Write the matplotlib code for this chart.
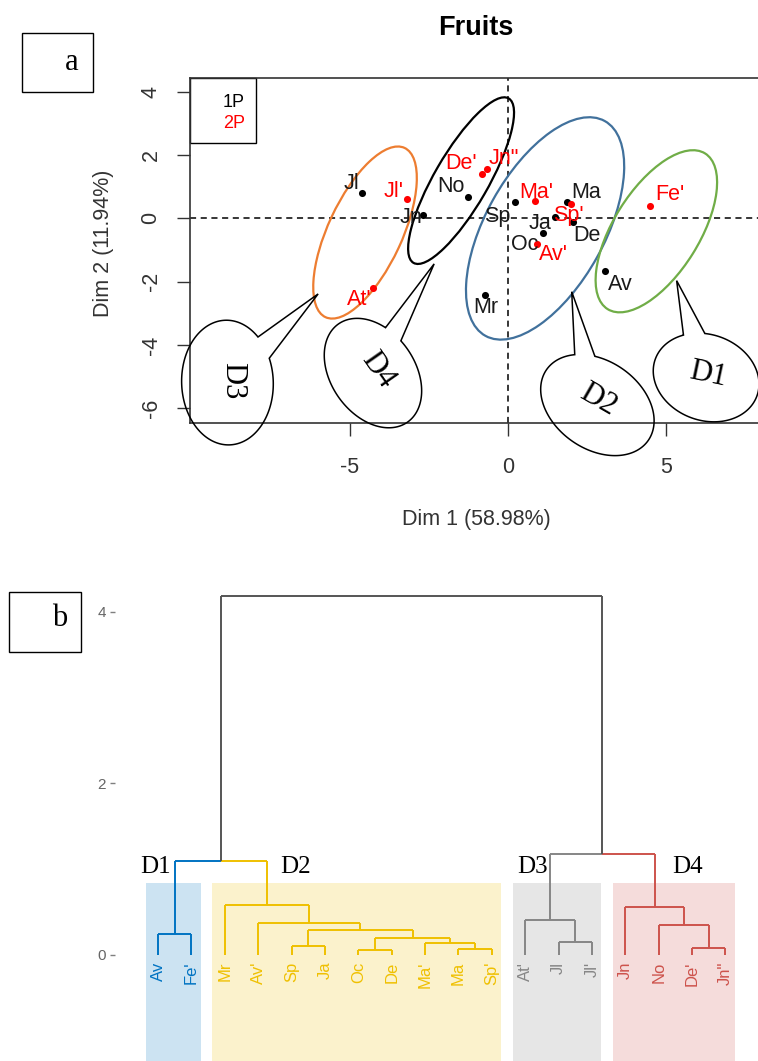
import numpy as np
import matplotlib
matplotlib.use("Agg")
import matplotlib.pyplot as plt
from matplotlib.patches import Ellipse, Rectangle, Polygon

plt.rcParams['font.family'] = ['Liberation Sans', 'DejaVu Sans']
plt.rcParams['axes.unicode_minus'] = False
SERIF = ['Liberation Serif', 'DejaVu Serif']

# ---------------- data : panel a (individuals factor map) ----------------
labels_a = ["Jl", "Jl'", "Jn", "No", "De'", 'Jn"', "Sp", "Ma'", "Ma", "Sp'",
            "Ja", "De", "Oc", "Av'", "Mr", "Av", "Fe'", "At'"]
dim1 = [-4.59, -3.20, -2.67, -1.25, -0.83, -0.67, 0.22, 0.85, 1.87, 2.00,
        1.48, 2.04, 1.11, 0.91, -0.73, 3.06, 4.48, -4.26]
dim2 = [0.81, 0.60, 0.10, 0.68, 1.40, 1.55, 0.52, 0.56, 0.50, 0.45,
        0.05, -0.11, -0.45, -0.81, -2.42, -1.66, 0.39, -2.19]
group = ["1P", "2P", "1P", "1P", "2P", "2P", "1P", "2P", "1P", "2P",
         "1P", "1P", "1P", "2P", "1P", "1P", "2P", "2P"]

# cluster ellipses drawn on the map
ell_names = ["D3", "D4", "D2", "D1"]
ell_cx = [-4.51, -1.48, 1.17, 4.68]
ell_cy = [-0.45, 1.19, -0.32, -0.41]
ell_w = [5.9, 6.0, 7.76, 5.8]
ell_h = [2.33, 1.7, 3.75, 2.7]
ell_angle = [65, 60, 61, 58]

# ---------------- data : panel b (dendrogram) ----------------
leaf_order = ["Av", "Fe'", "Mr", "Av'", "Sp", "Ja", "Oc", "De", "Ma'", "Ma",
              "Sp'", "At'", "Jl", "Jl'", "Jn", "No", "De'", 'Jn"']
leaf_cluster = ["D1", "D1", "D2", "D2", "D2", "D2", "D2", "D2", "D2", "D2",
                "D2", "D3", "D3", "D3", "D4", "D4", "D4", "D4"]
merge_left = ["Av", "Ma", "Ma'", "Oc", "n4", "Sp", "n6", "Av'", "Mr", "n1",
              "Jl", "At'", "De'", "No", "Jn", "n12", "n10"]
merge_right = ["Fe'", "Sp'", "n2", "De", "n3", "Ja", "n5", "n7", "n8", "n9",
               "Jl'", "n11", 'Jn"', "n13", "n14", "n15", "n16"]
merge_height = [0.245, 0.07, 0.14, 0.06, 0.20, 0.10, 0.29, 0.37, 0.58, 1.10,
                0.155, 0.41, 0.08, 0.35, 0.56, 1.18, 4.18]

# ---------------- styles ----------------
pt_colors = {"1P": "black", "2P": "#FF0000"}
ell_colors = {"D3": "#ED7D31", "D4": "black", "D2": "#41719C", "D1": "#70AD47"}
clu_colors = {"D1": "#0073C2", "D2": "#EFC000", "D3": "#868686", "D4": "#CD534C"}
top_color = "#555555"

W, H = 758, 1061
fig = plt.figure(figsize=(W / 100, H / 100), dpi=100)


def fx(px):
    return px / W


def fy(py):
    return 1 - py / H


# ======================= panel a =======================
axL, axR, axT, axB = 190, 762, 78.3, 423
ax = fig.add_axes([fx(axL), fy(axB), fx(axR - axL), (axB - axT) / H])
ax.set_xlim((axL - 508) / 31.7, (axR - 508) / 31.7)
ax.set_ylim((218.3 - axB) / 31.65, (218.3 - axT) / 31.65)

ax.axhline(0, color='black', lw=1.1, ls=(0, (4, 3)), zorder=1)
ax.axvline(0, color='black', lw=1.1, ls=(0, (4, 3)), zorder=1)

for g in ["1P", "2P"]:
    xs = [d for d, gg in zip(dim1, group) if gg == g]
    ys = [d for d, gg in zip(dim2, group) if gg == g]
    ax.scatter(xs, ys, s=26, color=pt_colors[g], zorder=3, linewidths=0)

# label offsets (pixels, x right / y down)
lab_off = {"Jl": (-11.5, -9.4), "Jl'": (-13.4, -7.8), "Jn": (-12, 2.5),
           "No": (-17.5, -10.2), "De'": (-21, -10), 'Jn"': (17.3, -10.8),
           "Sp": (-17.5, 15), "Ma'": (1.7, -8.4), "Ma": (18.4, -10),
           "Sp'": (-2.7, 11.7), "Ja": (-15, 6.6), "De": (14.6, 13.3),
           "Oc": (-18.3, 12.3), "Av'": (16.6, 11), "Mr": (0.8, 12.3),
           "Av": (15.5, 13.5), "Fe'": (20, -11.2), "At'": (-13.7, 12.3)}
for lab, x, y, g in zip(labels_a, dim1, dim2, group):
    ox, oy = lab_off[lab]
    ax.annotate(lab, (x, y), xytext=(ox, -oy), textcoords='offset pixels',
                ha='center', va='center', fontsize=15.5,
                color=('#1a1a1a' if g == "1P" else '#FF0000'), zorder=4)

for n, cx, cy, w, h, a in zip(ell_names, ell_cx, ell_cy, ell_w, ell_h, ell_angle):
    ax.add_patch(Ellipse((cx, cy), w, h, angle=a, fill=False,
                         edgecolor=ell_colors[n], lw=1.6, zorder=2))

# legend box (top-left corner of the plot region)
ax.add_patch(Rectangle((0, (axB - 143.3) / (axB - axT)), (255.8 - axL) / (axR - axL),
                       (143.3 - axT) / (axB - axT), fill=False, edgecolor='black',
                       lw=1.0, transform=ax.transAxes, clip_on=False))
ax.text((223 - axL) / (axR - axL), (axB - 102.7) / (axB - axT), "1P",
        transform=ax.transAxes, ha='left', va='center', fontsize=13, color='black')
ax.text((223 - axL) / (axR - axL), (axB - 123.3) / (axB - axT), "2P",
        transform=ax.transAxes, ha='left', va='center', fontsize=13, color='#FF0000')

# callout bubbles (geometry in axis units)
callouts = [
    # name, center, width, height, angle, base1, base2, tip, text pos, text rot
    ("D3", (-8.85, -5.19), 3.94, 2.89, 92, (-7.93, -3.79), (-7.61, -4.45), (-5.99, -2.39), (-8.70, -5.13), -90),
    ("D4", (-4.26, -4.89), 3.79, 2.65, -55, (-3.78, -3.32), (-3.25, -3.76), (-2.33, -1.44), (-4.09, -4.79), -55),
    ("D2", (2.82, -5.90), 3.91, 2.78, -35, (2.11, -4.39), (2.74, -4.39), (2.01, -2.32), (2.85, -5.74), -30),
    ("D1", (6.25, -5.03), 3.41, 2.71, -20, (5.53, -3.66), (6.21, -3.58), (5.32, -1.97), (6.32, -4.95), -12),
]
for name, c, w, h, ang, b1, b2, tip, tpos, trot in callouts:
    n = 720
    t = np.linspace(0, 2 * np.pi, n + 1)[:-1]
    th = np.deg2rad(ang)
    ex = c[0] + (w / 2) * np.cos(t) * np.cos(th) - (h / 2) * np.sin(t) * np.sin(th)
    ey = c[1] + (w / 2) * np.cos(t) * np.sin(th) + (h / 2) * np.sin(t) * np.cos(th)
    i1 = int(np.argmin((ex - b1[0]) ** 2 + (ey - b1[1]) ** 2))
    i2 = int(np.argmin((ex - b2[0]) ** 2 + (ey - b2[1]) ** 2))
    d = (i2 - i1) % n
    if d < n / 2:
        idx = [(i2 + k) % n for k in range((i1 - i2) % n + 1)]
    else:
        idx = [(i1 + k) % n for k in range(d + 1)]
    pts = [(ex[k], ey[k]) for k in idx] + [tip]
    ax.add_patch(Polygon(pts, closed=True, fill=False, edgecolor='black',
                         lw=1.1, clip_on=False, zorder=5, joinstyle='miter'))
    ax.text(tpos[0], tpos[1], name, rotation=trot, ha='center', va='center',
            rotation_mode='anchor', fontsize=22, family=SERIF, clip_on=False, zorder=6)

ax.set_xticks([-5, 0, 5])
ax.set_yticks([-6, -4, -2, 0, 2, 4])
ax.tick_params(axis='both', direction='out', length=9.5, width=1.0,
               labelsize=15.5, color='#333333', labelcolor='#333333')
ax.tick_params(axis='x', pad=15)
ax.tick_params(axis='y', pad=11)
for lbl in ax.get_yticklabels():
    lbl.set_rotation(90)
    lbl.set_va('center')
for sp in ax.spines.values():
    sp.set_linewidth(1.2)
    sp.set_color('#333333')
ax.set_xlabel("Dim 1 (58.98%)", fontsize=15.5, color='#333333')
ax.xaxis.set_label_coords(0.501, -0.281)
ax.xaxis.label.set_va('center')
ax.set_ylabel("Dim 2 (11.94%)", fontsize=15.5, color='#333333')
ax.yaxis.set_label_coords(-0.1516, 0.52)
ax.yaxis.label.set_va('center')
ax.set_title("Fruits", fontsize=19.5, fontweight='bold', pad=31)

# ======================= panel b =======================
bL, bR, bT, bB = 115, 758, 585, 1061
ax2 = fig.add_axes([fx(bL), fy(bB), fx(bR - bL), (bB - bT) / H])
ax2.set_xlim(1 + (bL - 158) / 33.38, 1 + (bR - 158) / 33.38)
ax2.set_ylim((955 - bB) / 85.8, (955 - bT) / 85.8)

xpos = {lab: i + 1 for i, lab in enumerate(leaf_order)}
hpos = {lab: 0.0 for lab in leaf_order}
cpos = {lab: c for lab, c in zip(leaf_order, leaf_cluster)}
for k, (l, r, h) in enumerate(zip(merge_left, merge_right, merge_height)):
    node = "n%d" % (k + 1)
    xpos[node] = (xpos[l] + xpos[r]) / 2
    hpos[node] = h
    cpos[node] = cpos[l] if cpos[l] == cpos[r] else None
    for ch in (l, r):
        col = clu_colors[cpos[ch]] if cpos[ch] else top_color
        ax2.plot([xpos[node], xpos[ch]], [h, h], color=col, lw=1.4,
                 solid_capstyle='butt', zorder=3)
        ax2.plot([xpos[ch], xpos[ch]], [h, hpos[ch]], color=col, lw=1.4,
                 solid_capstyle='butt', zorder=3)

for c in ["D1", "D2", "D3", "D4"]:
    idx = [i + 1 for i, cc in enumerate(leaf_cluster) if cc == c]
    x0, x1 = min(idx) - 0.37, max(idx) + 0.28
    ax2.add_patch(Rectangle((x0, -3), x1 - x0, 3 + 0.835, facecolor=clu_colors[c],
                            alpha=0.2, edgecolor='none', zorder=1))

for lab, c in zip(leaf_order, leaf_cluster):
    ax2.text(xpos[lab], -0.08, lab, rotation=90, ha='center', va='top',
             fontsize=12, color=clu_colors[c], zorder=4)

for name, x in zip(["D1", "D2", "D3", "D4"], [0.925, 5.13, 12.22, 16.85]):
    ax2.text(x, 1.02, name, ha='center', va='center', fontsize=18, family=SERIF,
             color='black', zorder=5)

ax2.set_xticks([])
ax2.set_yticks([0, 2, 4])
ax2.tick_params(axis='y', length=3.6, width=1.0, color='#7f7f7f',
                labelcolor='#666666', labelsize=11, pad=3)
for sp in ax2.spines.values():
    sp.set_visible(False)

# ======================= panel tags =======================
for (l, t, r, b), txt, (tx, ty) in [((22.3, 32.7, 93.3, 92.3), "a", (71.7, 62)),
                                      ((9.3, 592.3, 80.7, 651.7), "b", (60, 619))]:
    fig.patches.append(Rectangle((fx(l), fy(b)), fx(r - l), (b - t) / H, fill=False,
                                 edgecolor='black', lw=1.0, transform=fig.transFigure,
                                 figure=fig))
    fig.text(fx(tx), fy(ty), txt, ha='center', va='center', fontsize=22, family=SERIF)

fig.savefig("out.png", dpi=100)
